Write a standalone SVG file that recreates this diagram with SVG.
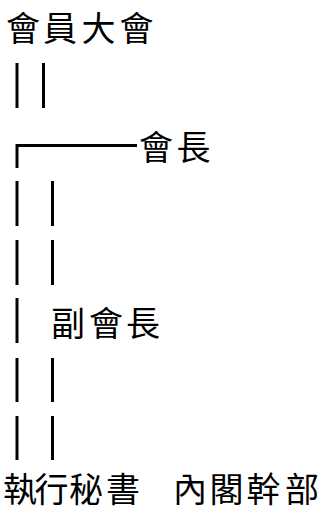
<svg xmlns="http://www.w3.org/2000/svg" width="322" height="513" viewBox="0 0 322 513">
<style>
.t{font-family:"Noto Sans CJK TC","Noto Sans CJK SC",sans-serif;font-size:34px;fill:#000;text-anchor:middle}
.c line{stroke:#000;stroke-width:3;fill:none}
</style>
<rect width="322" height="513" fill="#fff"/>
<g id="connectors" class="c">
<line x1="17" y1="63" x2="17" y2="108"/>
<line x1="43.5" y1="63" x2="43.5" y2="108"/>
<path d="M17 168 V145.5 H137" stroke="#000" stroke-width="3" fill="none"/>
<line x1="17" y1="181" x2="17" y2="226"/>
<line x1="52.5" y1="181" x2="52.5" y2="226"/>
<line x1="17" y1="240" x2="17" y2="285"/>
<line x1="52.5" y1="240" x2="52.5" y2="285"/>
<line x1="17" y1="298" x2="17" y2="343"/>
<line x1="17" y1="358" x2="17" y2="402"/>
<line x1="52.5" y1="358" x2="52.5" y2="402"/>
<line x1="17" y1="416" x2="17" y2="460"/>
<line x1="52.5" y1="416" x2="52.5" y2="460"/>
</g>
<g id="node-assembly"><text class="t" x="23 60 98.5 136.5" y="40.5">會員大會</text></g>
<g id="node-president"><text class="t" x="156 193.5" y="160">會長</text></g>
<g id="node-vice"><text class="t" x="68 106 143" y="335.5">副會長</text></g>
<g id="node-secretary"><text class="t" x="20 51.5 86 123" y="502">執行秘書</text></g>
<g id="node-cabinet"><text class="t" x="190 226.5 263.5 302" y="502">內閣幹部</text></g>
</svg>
